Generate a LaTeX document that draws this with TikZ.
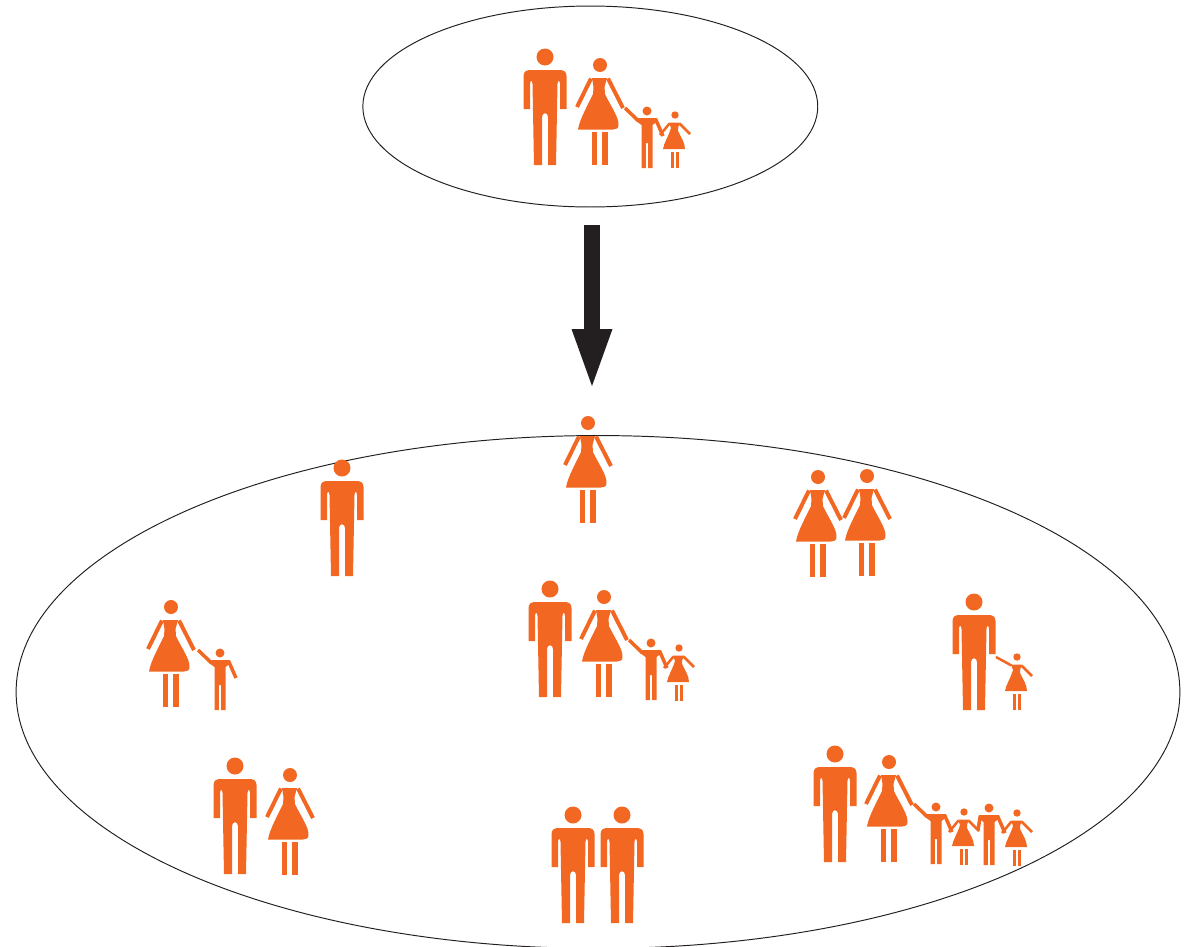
\documentclass[tikz,border=0pt]{standalone}
\usetikzlibrary{arrows.meta,shapes.geometric}
\definecolor{figorange}{HTML}{F26722}
\definecolor{arrowblack}{HTML}{231F20}
\tikzset{
  ring/.style={draw=arrowblack,line width=0.55pt,ellipse,inner sep=0pt,outer sep=0pt},
  figfill/.style={fill=figorange,draw=none},
  limb/.style={draw=figorange,line cap=butt},
  bigarrow/.style={draw=arrowblack,line width=0.32cm,-{Triangle[length=1.14cm,width=0.82cm,line width=0pt,fill=arrowblack]}}
}
% x, y, head-centre
\newcommand{\ManFig}[2]{\begin{scope}[shift={(#1,#2)}]
  \fill[figfill] (0,0) circle[radius=0.17cm];
  \fill[figfill] (-21.5,52) -- (-21.5,19) .. controls (-21.5,14) and (-18,13) .. (-14,13) -- (14,13) .. controls (18,13) and (21.5,14) .. (21.5,19) -- (21.5,52) -- (15,52) -- (15,27) .. controls (15,23) and (12.5,23) .. (12.5,27) -- (11,108) -- (3,108) -- (3,60) .. controls (3,55) and (-3,55) .. (-3,60) -- (-3,108) -- (-11,108) -- (-12.5,27) .. controls (-12.5,23) and (-15,23) .. (-15,27) -- (-15,52) -- cycle;
\end{scope}}
\newcommand{\WomanFig}[2]{\begin{scope}[shift={(#1,#2)}]
  \fill[figfill] (0,0) circle[radius=0.14cm];
  \fill[figfill] (-8,13) -- (7,13) -- (4.5,22) -- (5,29) .. controls (10,40) and (19,52) .. (18.5,60) .. controls (18.5,63.5) and (16,64.5) .. (13,64.5) -- (-22,64.5) .. controls (-20,53) and (-12,40) .. (-7,29) -- (-6.5,22) -- cycle;
  \draw[limb,line width=0.08cm] (-9,13.5) -- (-23,42);
  \draw[limb,line width=0.08cm] (8,13.5) -- (23,43);
  \fill[figfill] (-8,67) rectangle (-3,100);
  \fill[figfill] (2,67) rectangle (8,100);
\end{scope}}
% x, y, left hand offset
\newcommand{\BoyFig}[4]{\begin{scope}[shift={(#1,#2)}]
  \fill[figfill] (0,0) circle[radius=0.09cm];
  \fill[figfill] (-10,7) -- (10,7) -- (11,10) -- (5.5,14) -- (5.5,57) -- (1.2,57) -- (1.2,32) -- (-1.2,32) -- (-1.2,57) -- (-5.5,57) -- (-5.5,14) -- (-11,10) -- cycle;
  \draw[limb,line width=0.07cm] (-9,9.5) -- (#3,#4);
  \draw[limb,line width=0.07cm] (9,9) -- (16,25);
\end{scope}}
\newcommand{\GirlFig}[4]{\begin{scope}[shift={(#1,#2)}]
  \fill[figfill] (0,0) circle[radius=0.074cm];
  \fill[figfill] (-6,7.5) -- (5,7.5) -- (3,13) -- (3,16) .. controls (6,22) and (10,28) .. (10,34) -- (-12,34) .. controls (-11,28) and (-7,22) .. (-5,16) -- (-4,13) -- cycle;
  \draw[limb,line width=0.05cm] (-5.5,8.5) -- (#3,#4);
  \draw[limb,line width=0.05cm] (4.5,8.5) -- (15,19);
  \fill[figfill] (-4,36.5) rectangle (-1.5,53);
  \fill[figfill] (1,36.5) rectangle (3.5,53);
\end{scope}}
\begin{document}
\begin{tikzpicture}[x=0.02cm,y=-0.02cm]
\useasboundingbox (0,0) rectangle (1191,947);
\clip (0,0) rectangle (1191,947);
\node[ring,minimum width=9.1cm,minimum height=4.02cm] (topring) at (590.3,106.5) {};
\node[ring,minimum width=23.28cm,minimum height=10.26cm] (bigring) at (598,692) {};
\coordinate (arrowstart) at (592,225);
\coordinate (arrowtip) at (592,386);
\draw[bigarrow] (arrowstart) -- (arrowtip);
% top family
\ManFig{545}{57}\WomanFig{600}{65}\BoyFig{647}{111}{-22}{-3}\GirlFig{675}{115}{-15}{20}
% singles
\ManFig{342}{468}
\WomanFig{588}{423}
% two women
\WomanFig{818}{477}\WomanFig{867}{476}
% woman and boy
\WomanFig{171}{607}\BoyFig{220}{653}{-22}{-3}
% centre family
\ManFig{550}{589}\WomanFig{604}{597}\BoyFig{651}{643}{-22}{-3}\GirlFig{679}{648}{-15}{20}
% man and girl
\ManFig{974}{602}\GirlFig{1017}{657}{-21}{0}
% man and woman
\ManFig{235}{766}\WomanFig{290}{775}
% two men
\ManFig{573}{815}\ManFig{622}{815}
% large family
\ManFig{835}{754}\WomanFig{889}{762}\BoyFig{936}{807}{-22}{-3}\GirlFig{964}{812}{-15}{20}\BoyFig{989}{808}{-11}{22}\GirlFig{1017}{813}{-15}{20}
\end{tikzpicture}
\end{document}
